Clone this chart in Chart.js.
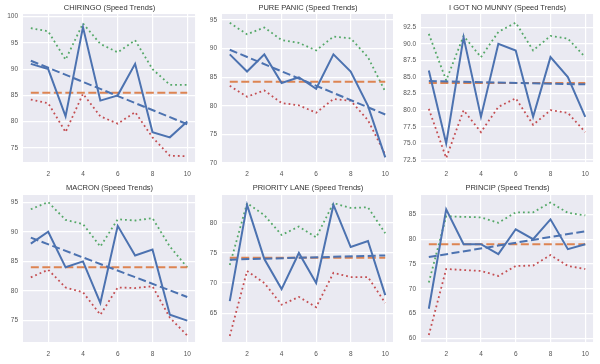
<!DOCTYPE html>
<html>
<head>
<meta charset="utf-8">
<script src="https://cdn.jsdelivr.net/npm/chart.js@4.4.1/dist/chart.umd.min.js"></script>
<style>
    html, body { margin: 0; padding: 0; background: #fff; }
    body { width: 600px; height: 364px; position: relative; overflow: hidden; font-family: "Liberation Sans", Arial, sans-serif; }
    .panel { position: absolute; }
    .panel canvas { position: absolute; left: 0; top: 0; }
    .title { position: absolute; text-align: center; font-size: 7.5px; line-height: 9px; color: #333; white-space: nowrap; }
</style>
</head>
<body>
<script>
// --- data ---
const drivers = ['CHIRINGO', 'PURE PANIC', 'I GOT NO MUNNY', 'MACRON', 'PRIORITY LANE', 'PRINCIP'];
const laps = [1, 2, 3, 4, 5, 6, 7, 8, 9, 10];
const xTicks = [2, 4, 6, 8, 10];

const speeds = [
    [91, 90, 81, 98, 84, 85, 91, 78, 77, 80],
    [89, 86, 89, 84, 85, 83, 89, 86, 80, 71],
    [86, 75, 91, 79, 90, 89, 79, 88, 85, 79],
    [88, 90, 84, 85, 78, 91, 86, 87, 76, 75],
    [67, 83, 74, 69, 75, 70, 83, 76, 77, 68],
    [66, 86, 79, 79, 77, 82, 80, 84, 78, 79]
];
const upperBand = [
    [97.8, 97.2, 91.8, 98.7, 94.8, 93.2, 95.5, 90.0, 87.0, 87.0],
    [94.5, 92.5, 93.7, 91.5, 91.0, 89.7, 92.1, 91.8, 88.5, 82.5],
    [91.5, 84.5, 91.2, 88.0, 91.8, 93.2, 89.0, 91.2, 90.8, 88.0],
    [93.8, 95.0, 92.0, 91.3, 87.5, 92.1, 91.9, 92.3, 87.5, 84.0],
    [73.0, 83.3, 81.3, 78.0, 79.4, 77.6, 83.3, 82.5, 82.6, 78.3],
    [71.3, 84.6, 84.5, 84.4, 83.3, 85.4, 85.4, 87.4, 85.3, 84.8]
];
const lowerBand = [
    [84.2, 83.5, 78.0, 85.3, 81.0, 79.6, 81.8, 77.0, 73.5, 73.4],
    [83.5, 81.6, 82.7, 80.5, 80.1, 78.8, 81.2, 80.9, 77.5, 71.5],
    [80.2, 72.8, 80.0, 76.7, 80.5, 81.8, 77.8, 80.0, 79.6, 76.7],
    [82.3, 83.6, 80.6, 79.8, 76.0, 80.6, 80.5, 80.8, 75.5, 72.5],
    [61.2, 72.0, 70.0, 66.4, 67.7, 66.0, 71.7, 71.0, 71.0, 66.7],
    [60.7, 74.0, 73.8, 73.6, 72.6, 74.6, 74.7, 76.8, 74.6, 74.0]
];
const meanSpeed = [85.5, 84.2, 84.1, 84.0, 74.2, 79.0];
const trendStart = [91.6, 89.8, 84.4, 89.0, 73.9, 76.4];
const trendEnd = [79.5, 78.5, 83.9, 79.0, 74.6, 81.6];

const yTicks = [
    [75, 80, 85, 90, 95, 100],
    [70, 75, 80, 85, 90, 95],
    [72.5, 75, 77.5, 80, 82.5, 85, 87.5, 90, 92.5],
    [75, 80, 85, 90, 95],
    [65, 70, 75, 80],
    [60, 65, 70, 75, 80, 85]
];
const yDecimals = [0, 0, 1, 0, 0, 0];
const yRange = [
    [72.3, 100.5],
    [70.2, 96.05],
    [72.2, 94.5],
    [71.4, 96.2],
    [60.2, 84.65],
    [59.3, 88.9]
];

// --- colours / layout ---
const BLUE = '#4C72B0';
const ORANGE = '#DD8452';
const GREEN = '#55A868';
const RED = '#C44E52';
const FONT = '"Liberation Sans", Arial, sans-serif';

const colLeft = [0, 199, 398];
const plotW = [173, 172, 173];
const rowTop = [0, 182];
const padTop = [14, 13];
const xAxisH = [20, 22];
const yAxisW = 23;

const plotBg = {
    id: 'plotBg',
    beforeDraw(chart) {
        const { ctx, chartArea: a } = chart;
        ctx.save();
        ctx.fillStyle = '#EAEAF2';
        ctx.fillRect(a.left, a.top, a.right - a.left, a.bottom - a.top);
        ctx.restore();
    }
};

function points(arr) {
    return laps.map((x, k) => ({ x: x, y: arr[k] }));
}

function makePanel(i) {
    const r = Math.floor(i / 3);
    const c = i % 3;
    const w = yAxisW + plotW[c] + 3;

    const wrap = document.createElement('div');
    wrap.className = 'panel';
    wrap.style.left = colLeft[c] + 'px';
    wrap.style.top = rowTop[r] + 'px';
    wrap.style.width = w + 'px';
    wrap.style.height = '182px';

    const canvas = document.createElement('canvas');
    canvas.width = w;
    canvas.height = 182;
    wrap.appendChild(canvas);

    const title = document.createElement('div');
    title.className = 'title';
    title.style.left = yAxisW + 'px';
    title.style.width = plotW[c] + 'px';
    title.style.top = (r === 0 ? 3 : 1) + 'px';
    title.textContent = drivers[i] + ' (Speed Trends)';
    wrap.appendChild(title);

    document.body.appendChild(wrap);

    const first = laps[0];
    const last = laps[laps.length - 1];
    const tickFont = { size: 6.5, family: FONT };

    new Chart(canvas.getContext('2d'), {
        type: 'line',
        data: {
            datasets: [
                { label: 'Speed', data: points(speeds[i]), borderColor: BLUE, borderWidth: 2 },
                { label: 'Trend', data: [{ x: first, y: trendStart[i] }, { x: last, y: trendEnd[i] }],
                  borderColor: BLUE, borderWidth: 2, borderDash: [8, 3.5] },
                { label: 'Mean', data: [{ x: first, y: meanSpeed[i] }, { x: last, y: meanSpeed[i] }],
                  borderColor: ORANGE, borderWidth: 2, borderDash: [8, 3.5] },
                { label: 'Upper', data: points(upperBand[i]), borderColor: GREEN, borderWidth: 1.8, borderDash: [1.8, 3] },
                { label: 'Lower', data: points(lowerBand[i]), borderColor: RED, borderWidth: 1.8, borderDash: [1.8, 3] }
            ]
        },
        options: {
            responsive: false,
            animation: false,
            events: [],
            elements: { point: { radius: 0 }, line: { tension: 0, fill: false } },
            layout: { padding: { top: padTop[r], right: 3, left: 0, bottom: 0 } },
            plugins: { legend: { display: false }, tooltip: { enabled: false } },
            scales: {
                x: {
                    type: 'linear',
                    min: 0.55,
                    max: 10.45,
                    afterBuildTicks: s => { s.ticks = xTicks.map(v => ({ value: v })); },
                    afterFit: s => { s.height = xAxisH[r]; },
                    grid: { color: '#fff', lineWidth: 1.2, drawTicks: false },
                    border: { display: false },
                    ticks: { padding: 8, color: '#555', font: tickFont }
                },
                y: {
                    min: yRange[i][0],
                    max: yRange[i][1],
                    afterBuildTicks: s => { s.ticks = yTicks[i].map(v => ({ value: v })); },
                    afterFit: s => { s.width = yAxisW; },
                    grid: { color: '#fff', lineWidth: 1.2, drawTicks: false },
                    border: { display: false },
                    ticks: {
                        padding: 5,
                        color: '#555',
                        font: tickFont,
                        callback: v => v.toFixed(yDecimals[i])
                    }
                }
            }
        },
        plugins: [plotBg]
    });
}

drivers.forEach((d, i) => makePanel(i));
</script>
</body>
</html>
